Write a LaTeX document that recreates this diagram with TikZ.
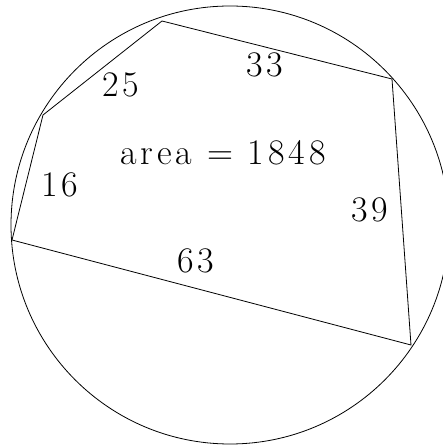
\documentclass[tikz,border=0pt]{standalone}
\usepackage{fontspec}
\usepackage{tikz}
\usetikzlibrary{positioning}
\newfontfamily\widefont[LetterSpace=11]{Latin Modern Roman}

\begin{document}
\begin{tikzpicture}[
        x=1pt, y=1pt,
        side/.style = {thick},
        len/.style = {font=\widefont\fontsize{36}{40}\selectfont, inner sep=0pt, anchor=base}
    ]
    \useasboundingbox (0,0) rectangle (443,447);
    \coordinate (o) at (230,222);
    \coordinate (a) at (12,207);
    \coordinate (b) at (43,332);
    \coordinate (c) at (162,426);
    \coordinate (d) at (392,368);
    \coordinate (e) at (411,102);

    \draw[side] (o) circle (219);
    \draw[side] (a) -- (b) -- (c) -- (d) -- (e) -- cycle;

    \node[len] (ab) at (60,250) {16};
    \node[len] (bc) at (121,350) {25};
    \node[len] (cd) at (265,370) {33};
    \node[len] (de) at (370,225) {39};
    \node[len] (ea) at (196,174) {63};
    \node[len] (area) at (223,282) {area = 1848};
\end{tikzpicture}
\end{document}
